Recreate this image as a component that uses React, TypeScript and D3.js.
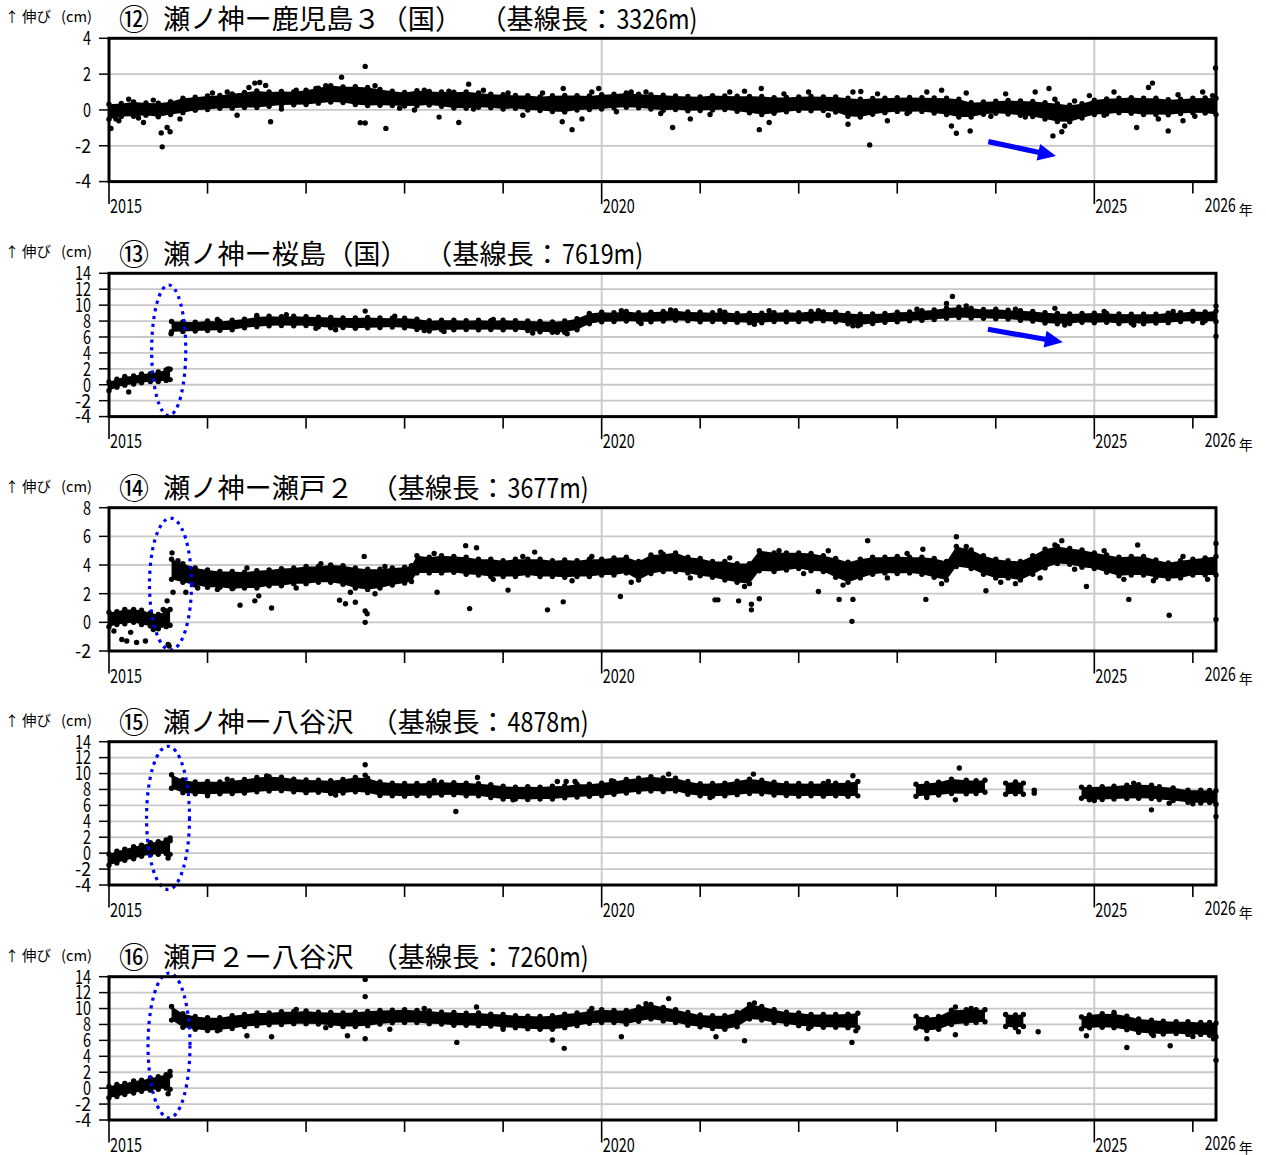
import React from "react";
import * as d3 from "d3";

type Row = [number, number, number]; // [year, centre of band (cm), half spread (cm)]
type Pt = [number, number]; // [year, value cm]

// ---------------- DATA ----------------
const PANEL_NUMS = ["⑫", "⑬", "⑭", "⑮", "⑯"];
const PANEL_NAMES = ["瀬ノ神ー鹿児島３（国）", "瀬ノ神ー桜島（国）", "瀬ノ神ー瀬戸２", "瀬ノ神ー八谷沢", "瀬戸２ー八谷沢"];
const BASELINE_PREFIX = "（基線長：";
const BASELINE_LENGTHS = ["3326m)", "7619m)", "3677m)", "4878m)", "7260m)"];
const Y_DOMAINS: [number, number][] = [[-4, 4], [-4, 14], [-2, 8], [-4, 14], [-4, 14]];
const Y_TICKS_1 = [-4, -2, 0, 2, 4];
const Y_TICKS_2 = [-4, -2, 0, 2, 4, 6, 8, 10, 12, 14];
const Y_TICKS_3 = [-2, 0, 2, 4, 6, 8];
const Y_TICKS = [Y_TICKS_1, Y_TICKS_2, Y_TICKS_3, Y_TICKS_2, Y_TICKS_2];
const YEAR_TICKS = [2015, 2016, 2017, 2018, 2019, 2020, 2021, 2022, 2023, 2024, 2025, 2026];
const LABELLED_YEARS = [2015, 2020, 2025];
const LAST_YEAR_LABEL = "2026";
const YEAR_UNIT = "年";
const X_DOMAIN: [number, number] = [2015, 2026.235];

const P12_BAND: Row[][] = [[
  [2015.0, -0.1, 0.42], [2015.125, 0.0, 0.36], [2015.25, 0.05, 0.4], [2015.375, 0.05, 0.34], [2015.5, 0.0, 0.38], [2015.625, 0.1, 0.36], [2015.75, 0.25, 0.4], [2015.875, 0.35, 0.36],
  [2016.0, 0.4, 0.38], [2016.125, 0.45, 0.36], [2016.25, 0.5, 0.4], [2016.375, 0.55, 0.42], [2016.5, 0.6, 0.46], [2016.625, 0.6, 0.4], [2016.75, 0.65, 0.38], [2016.875, 0.65, 0.36],
  [2017.0, 0.7, 0.4], [2017.125, 0.8, 0.42], [2017.25, 0.9, 0.46], [2017.375, 0.85, 0.44], [2017.5, 0.8, 0.5], [2017.625, 0.75, 0.5], [2017.75, 0.7, 0.44], [2017.875, 0.65, 0.4],
  [2018.0, 0.6, 0.38], [2018.125, 0.65, 0.42], [2018.25, 0.65, 0.38], [2018.375, 0.6, 0.4], [2018.5, 0.55, 0.44], [2018.625, 0.55, 0.46], [2018.75, 0.55, 0.4], [2018.875, 0.5, 0.38],
  [2019.0, 0.45, 0.4], [2019.125, 0.45, 0.36], [2019.25, 0.4, 0.4], [2019.375, 0.35, 0.38], [2019.5, 0.35, 0.44], [2019.625, 0.35, 0.46], [2019.75, 0.4, 0.4], [2019.875, 0.4, 0.38],
  [2020.0, 0.45, 0.4], [2020.125, 0.5, 0.38], [2020.25, 0.55, 0.4], [2020.375, 0.5, 0.38], [2020.5, 0.45, 0.4], [2020.625, 0.4, 0.42], [2020.75, 0.4, 0.38], [2020.875, 0.35, 0.4],
  [2021.0, 0.35, 0.38], [2021.125, 0.4, 0.4], [2021.25, 0.4, 0.38], [2021.375, 0.35, 0.42], [2021.5, 0.3, 0.46], [2021.625, 0.25, 0.5], [2021.75, 0.25, 0.44], [2021.875, 0.3, 0.4],
  [2022.0, 0.35, 0.38], [2022.125, 0.35, 0.4], [2022.25, 0.35, 0.38], [2022.375, 0.3, 0.42], [2022.5, 0.15, 0.5], [2022.625, 0.1, 0.5], [2022.75, 0.2, 0.44], [2022.875, 0.25, 0.4],
  [2023.0, 0.3, 0.38], [2023.125, 0.3, 0.4], [2023.25, 0.3, 0.38], [2023.375, 0.25, 0.42], [2023.5, 0.2, 0.46], [2023.625, 0.1, 0.5], [2023.75, 0.0, 0.4], [2023.875, 0.1, 0.34],
  [2024.0, 0.15, 0.34], [2024.125, 0.15, 0.38], [2024.25, 0.1, 0.4], [2024.375, 0.05, 0.42], [2024.5, -0.05, 0.46], [2024.625, -0.15, 0.5], [2024.75, -0.2, 0.46], [2024.875, -0.05, 0.4],
  [2025.0, 0.15, 0.4], [2025.125, 0.2, 0.42], [2025.25, 0.25, 0.4], [2025.375, 0.25, 0.44], [2025.5, 0.2, 0.46], [2025.625, 0.2, 0.46], [2025.75, 0.15, 0.42], [2025.875, 0.2, 0.4],
  [2026.0, 0.25, 0.4], [2026.125, 0.25, 0.42], [2026.235, 0.2, 0.46],
]];
const P12_DOTS: Pt[] = [
  [2015.02, -1.03], [2015.53, -1.28], [2015.54, -2.06], [2015.59, -0.98], [2015.62, -1.22], [2016.64, -0.66], [2016.48, 1.5], [2016.53, 1.53],
  [2016.59, 1.37], [2017.6, 2.43], [2017.36, 1.83], [2017.55, -0.71], [2017.6, -0.73], [2017.81, -1.03], [2018.55, -0.7], [2018.65, 1.44],
  [2019.6, -0.66], [2019.7, -1.1], [2019.61, 1.2], [2019.97, 1.2], [2020.72, -0.98], [2021.6, -1.1], [2021.62, 1.2], [2022.72, -1.95],
  [2022.63, 1.03], [2023.6, -1.3], [2023.74, -1.17], [2024.54, 1.2], [2024.58, -1.45], [2024.67, -1.22], [2025.59, 1.5], [2025.75, -1.17],
  [2025.43, -0.98], [2026.23, 2.34], [2015.1, -0.6], [2015.2, 0.6], [2015.35, -0.7], [2016.3, -0.3], [2016.9, 1.1], [2017.1, 1.2],
  [2018.2, 1.1], [2018.35, -0.4], [2018.8, 1.1], [2019.2, -0.3], [2019.8, -0.5], [2020.3, 1.0], [2020.9, -0.5], [2021.3, 1.0],
  [2021.7, -0.7], [2022.1, 1.0], [2022.5, -0.8], [2022.9, -0.6], [2023.3, 1.0], [2023.55, -0.9], [2024.1, 0.9], [2024.4, 1.0],
  [2024.7, -0.9], [2025.2, 1.0], [2025.9, -0.6], [2026.1, 1.0], [2015.07, -0.5], [2015.3, -0.45], [2015.45, 0.55], [2015.72, -0.5],
  [2016.05, 0.95], [2016.2, 1.0], [2016.42, 1.25], [2016.75, 0.05], [2017.2, 1.35], [2017.42, 1.1], [2017.7, 1.35], [2017.95, 0.1],
  [2018.1, 0.0], [2018.45, 1.05], [2018.7, 0.05], [2019.05, 0.95], [2019.4, 0.95], [2019.9, 1.0], [2020.15, -0.1], [2020.45, 1.0],
  [2020.6, -0.2], [2021.1, -0.25], [2021.45, 1.05], [2021.85, 0.9], [2022.3, -0.3], [2022.55, 1.0], [2022.8, 0.9], [2023.1, -0.2],
  [2023.45, 1.1], [2023.7, 0.95], [2023.95, -0.35], [2024.3, -0.4], [2024.6, 0.6], [2024.8, 0.5], [2024.95, 0.8], [2025.1, -0.3],
  [2025.55, 1.25], [2025.65, -0.5], [2025.85, 0.85], [2026.02, -0.35], [2026.2, 0.8],
];

const P13_BAND: Row[][] = [
  [[2015.0, -0.2, 0.55], [2015.08, 0.2, 0.5], [2015.16, 0.5, 0.55], [2015.25, 0.6, 0.5], [2015.33, 0.8, 0.55], [2015.42, 0.9, 0.5], [2015.5, 1.0, 0.6], [2015.58, 1.2, 0.65], [2015.62, 1.3, 0.65]],
  [[2015.635, 7.3, 0.65], [2015.75, 7.3, 0.6], [2015.875, 7.3, 0.55], [2016.0, 7.4, 0.6], [2016.125, 7.4, 0.55], [2016.25, 7.5, 0.6], [2016.375, 7.7, 0.55], [2016.5, 7.9, 0.6],
   [2016.625, 8.0, 0.6], [2016.75, 8.0, 0.55], [2016.875, 8.0, 0.6], [2017.0, 8.0, 0.55], [2017.125, 7.9, 0.6], [2017.25, 7.8, 0.65], [2017.375, 7.8, 0.6], [2017.5, 7.75, 0.65],
   [2017.625, 7.8, 0.65], [2017.75, 7.8, 0.6], [2017.875, 7.8, 0.55], [2018.0, 7.75, 0.6], [2018.125, 7.6, 0.65], [2018.25, 7.4, 0.65], [2018.375, 7.5, 0.6], [2018.5, 7.5, 0.6],
   [2018.625, 7.5, 0.55], [2018.75, 7.5, 0.6], [2018.875, 7.5, 0.55], [2019.0, 7.5, 0.6], [2019.125, 7.5, 0.55], [2019.25, 7.4, 0.6], [2019.375, 7.3, 0.65], [2019.5, 7.25, 0.65],
   [2019.625, 7.3, 0.7], [2019.75, 7.6, 0.7], [2019.875, 8.3, 0.65], [2020.0, 8.5, 0.6], [2020.125, 8.5, 0.55], [2020.25, 8.6, 0.6], [2020.375, 8.5, 0.55], [2020.5, 8.5, 0.6],
   [2020.625, 8.6, 0.6], [2020.75, 8.7, 0.6], [2020.875, 8.6, 0.55], [2021.0, 8.5, 0.6], [2021.125, 8.5, 0.55], [2021.25, 8.5, 0.6], [2021.375, 8.4, 0.55], [2021.5, 8.4, 0.6],
   [2021.625, 8.4, 0.6], [2021.75, 8.5, 0.55], [2021.875, 8.5, 0.6], [2022.0, 8.5, 0.55], [2022.125, 8.6, 0.6], [2022.25, 8.6, 0.55], [2022.375, 8.5, 0.6], [2022.5, 8.3, 0.65],
   [2022.625, 8.2, 0.65], [2022.75, 8.3, 0.6], [2022.875, 8.4, 0.55], [2023.0, 8.5, 0.6], [2023.125, 8.6, 0.55], [2023.25, 8.7, 0.6], [2023.375, 8.8, 0.6], [2023.5, 9.0, 0.65],
   [2023.625, 9.1, 0.65], [2023.75, 9.0, 0.6], [2023.875, 8.9, 0.55], [2024.0, 8.9, 0.6], [2024.125, 8.8, 0.55], [2024.25, 8.7, 0.6], [2024.375, 8.6, 0.6], [2024.5, 8.4, 0.65],
   [2024.625, 8.3, 0.65], [2024.75, 8.3, 0.6], [2024.875, 8.4, 0.55], [2025.0, 8.4, 0.6], [2025.125, 8.4, 0.55], [2025.25, 8.3, 0.6], [2025.375, 8.3, 0.55], [2025.5, 8.25, 0.6],
   [2025.625, 8.3, 0.55], [2025.75, 8.4, 0.6], [2025.875, 8.5, 0.55], [2026.0, 8.6, 0.6], [2026.125, 8.6, 0.55], [2026.235, 8.6, 0.65]],
];
const P13_DOTS: Pt[] = [
  [2015.63, 6.4], [2017.6, 9.25], [2023.56, 11.1], [2023.5, 10.2], [2020.7, 9.4], [2016.5, 8.7], [2018.2, 6.8], [2019.55, 6.6],
  [2024.6, 9.6], [2026.235, 6.1], [2026.235, 9.9], [2021.7, 9.3], [2022.6, 7.4], [2017.3, 6.9], [2015.2, -0.9], [2015.6, 2.0],
  [2016.1, 8.2], [2016.8, 8.8], [2017.1, 7.1], [2017.9, 8.6], [2018.4, 6.7], [2018.9, 8.2], [2019.3, 6.5], [2019.65, 6.4],
  [2020.2, 9.3], [2020.4, 7.7], [2021.2, 9.3], [2021.55, 7.6], [2022.2, 9.3], [2022.55, 7.4], [2023.2, 9.5], [2023.7, 9.9],
  [2024.2, 9.5], [2024.7, 7.5], [2025.1, 9.2], [2025.4, 7.5], [2025.8, 9.2], [2026.1, 7.8],
];

const P14_BAND: Row[][] = [
  [[2015.0, 0.2, 0.5], [2015.08, 0.3, 0.45], [2015.16, 0.4, 0.5], [2015.25, 0.45, 0.45], [2015.33, 0.35, 0.5], [2015.42, 0.2, 0.45], [2015.5, 0.05, 0.5], [2015.58, 0.25, 0.55], [2015.62, 0.35, 0.55]],
  [[2015.635, 3.7, 0.7], [2015.75, 3.45, 0.65], [2015.875, 3.2, 0.6], [2016.0, 3.05, 0.6], [2016.125, 3.0, 0.55], [2016.25, 2.95, 0.6], [2016.375, 2.95, 0.55], [2016.5, 3.0, 0.6],
   [2016.625, 3.1, 0.55], [2016.75, 3.15, 0.6], [2016.875, 3.25, 0.55], [2017.0, 3.3, 0.6], [2017.125, 3.35, 0.55], [2017.25, 3.4, 0.6], [2017.375, 3.3, 0.65], [2017.5, 3.1, 0.7],
   [2017.625, 3.0, 0.7], [2017.75, 3.05, 0.65], [2017.875, 3.2, 0.6], [2018.0, 3.3, 0.55], [2018.07, 3.4, 0.55], [2018.125, 4.05, 0.6], [2018.25, 4.0, 0.55], [2018.375, 4.05, 0.6],
   [2018.5, 4.05, 0.55], [2018.625, 3.95, 0.6], [2018.75, 3.85, 0.55], [2018.875, 3.8, 0.6], [2019.0, 3.75, 0.55], [2019.125, 3.8, 0.6], [2019.25, 3.85, 0.55], [2019.375, 3.8, 0.6],
   [2019.5, 3.75, 0.55], [2019.625, 3.75, 0.6], [2019.75, 3.75, 0.55], [2019.875, 3.8, 0.6], [2020.0, 3.85, 0.55], [2020.125, 3.9, 0.6], [2020.25, 4.0, 0.55], [2020.375, 3.6, 0.65],
   [2020.5, 4.05, 0.65], [2020.625, 4.15, 0.6], [2020.75, 4.2, 0.65], [2020.875, 4.0, 0.55], [2021.0, 3.85, 0.6], [2021.125, 3.7, 0.55], [2021.25, 3.6, 0.65], [2021.375, 3.45, 0.65],
   [2021.5, 3.4, 0.7], [2021.6, 4.3, 0.7], [2021.75, 4.2, 0.65], [2021.875, 4.25, 0.6], [2022.0, 4.3, 0.55], [2022.125, 4.2, 0.6], [2022.25, 4.1, 0.55], [2022.375, 3.8, 0.65],
   [2022.5, 3.5, 0.7], [2022.625, 3.75, 0.65], [2022.75, 3.95, 0.6], [2022.875, 4.0, 0.55], [2023.0, 4.0, 0.6], [2023.125, 4.0, 0.55], [2023.25, 3.95, 0.6], [2023.375, 3.8, 0.65],
   [2023.5, 3.6, 0.65], [2023.6, 4.6, 0.7], [2023.75, 4.4, 0.65], [2023.875, 4.0, 0.65], [2024.0, 3.75, 0.65], [2024.125, 3.7, 0.6], [2024.25, 3.6, 0.65], [2024.375, 4.0, 0.65],
   [2024.5, 4.45, 0.65], [2024.625, 4.7, 0.6], [2024.75, 4.6, 0.55], [2024.875, 4.45, 0.6], [2025.0, 4.3, 0.55], [2025.125, 4.1, 0.6], [2025.25, 3.9, 0.65], [2025.375, 3.95, 0.65],
   [2025.5, 3.95, 0.65], [2025.625, 3.75, 0.6], [2025.75, 3.6, 0.55], [2025.875, 3.7, 0.6], [2026.0, 3.85, 0.55], [2026.125, 3.9, 0.6], [2026.235, 3.95, 0.65]],
];
const P14_DOTS: Pt[] = [
  [2015.64, 4.85], [2015.65, 2.1], [2015.78, 2.1], [2015.59, 1.5], [2015.61, -1.65], [2015.6, -1.55], [2015.18, -1.3], [2015.28, -1.4],
  [2015.37, -1.3], [2015.13, -1.2], [2016.33, 1.2], [2016.48, 1.5], [2016.52, 1.85], [2016.65, 1.0], [2016.26, 2.4], [2017.34, 1.55],
  [2017.4, 1.3], [2017.5, 1.4], [2017.6, 0.8], [2017.62, 0.6], [2017.6, 0.0], [2017.59, 4.6], [2018.66, 0.96], [2019.45, 0.87],
  [2019.61, 1.43], [2020.19, 1.8], [2018.62, 5.35], [2018.73, 5.2], [2019.32, 4.9], [2018.33, 2.1], [2019.05, 2.25], [2021.15, 1.57],
  [2021.18, 1.57], [2021.39, 1.5], [2021.52, 1.26], [2021.52, 0.87], [2021.6, 1.65], [2022.2, 2.15], [2022.41, 1.6], [2022.55, 1.6],
  [2022.54, 0.07], [2022.7, 5.7], [2023.29, 1.6], [2023.26, 5.1], [2023.6, 5.97], [2025.35, 1.6], [2025.76, 0.5], [2025.44, 5.4],
  [2024.67, 5.7], [2024.92, 2.5], [2023.9, 2.2], [2026.235, 0.2], [2026.235, 5.5], [2015.05, -0.6], [2015.22, -0.7], [2015.45, -0.5],
  [2015.55, 0.9], [2015.7, 4.3], [2015.9, 2.4], [2016.1, 2.3], [2016.4, 3.8], [2016.9, 2.4], [2017.15, 4.1], [2017.45, 2.1],
  [2017.7, 2.0], [2017.8, 3.9], [2018.3, 4.8], [2018.9, 3.0], [2019.2, 4.6], [2019.7, 2.9], [2019.9, 4.6], [2020.3, 2.8],
  [2020.6, 4.9], [2020.9, 3.1], [2021.3, 4.5], [2021.45, 2.5], [2021.8, 5.0], [2022.05, 3.4], [2022.3, 5.0], [2022.45, 2.6],
  [2022.9, 3.1], [2023.1, 4.8], [2023.45, 2.7], [2023.7, 5.3], [2024.05, 2.8], [2024.2, 2.7], [2024.45, 3.1], [2024.6, 5.4],
  [2024.8, 3.7], [2025.1, 5.0], [2025.3, 3.0], [2025.6, 2.9], [2025.9, 4.6], [2026.15, 3.0],
];

const P15_BAND: Row[][] = [
  [[2015.0, -0.8, 0.7], [2015.08, -0.5, 0.75], [2015.16, -0.2, 0.7], [2015.25, 0.05, 0.75], [2015.33, 0.3, 0.7], [2015.42, 0.55, 0.75], [2015.5, 0.65, 0.8], [2015.58, 0.8, 0.85], [2015.62, 0.7, 0.85]],
  [[2015.635, 9.0, 0.85], [2015.75, 8.4, 0.8], [2015.875, 8.2, 0.75], [2016.0, 8.2, 0.8], [2016.125, 8.2, 0.75], [2016.25, 8.3, 0.8], [2016.375, 8.4, 0.85], [2016.5, 8.6, 0.9],
   [2016.625, 8.7, 0.9], [2016.75, 8.7, 0.85], [2016.875, 8.5, 0.8], [2017.0, 8.4, 0.8], [2017.125, 8.4, 0.75], [2017.25, 8.3, 0.8], [2017.375, 8.4, 0.85], [2017.5, 8.6, 0.9],
   [2017.625, 8.5, 0.9], [2017.75, 8.1, 0.85], [2017.875, 8.0, 0.8], [2018.0, 7.96, 0.8], [2018.125, 8.0, 0.75], [2018.25, 8.0, 0.8], [2018.375, 8.1, 0.8], [2018.5, 8.1, 0.75],
   [2018.625, 8.0, 0.8], [2018.75, 7.96, 0.75], [2018.875, 7.8, 0.8], [2019.0, 7.6, 0.8], [2019.125, 7.55, 0.75], [2019.25, 7.54, 0.8], [2019.375, 7.55, 0.75], [2019.5, 7.6, 0.8],
   [2019.625, 7.7, 0.75], [2019.75, 7.85, 0.8], [2019.875, 7.9, 0.75], [2020.0, 8.0, 0.8], [2020.125, 8.2, 0.8], [2020.25, 8.4, 0.85], [2020.375, 8.55, 0.85], [2020.5, 8.7, 0.9],
   [2020.625, 8.6, 0.85], [2020.75, 8.6, 0.8], [2020.875, 8.2, 0.8], [2021.0, 7.96, 0.75], [2021.125, 7.96, 0.8], [2021.25, 8.0, 0.8], [2021.375, 8.2, 0.85], [2021.5, 8.4, 0.9],
   [2021.625, 8.3, 0.85], [2021.75, 8.1, 0.8], [2021.875, 8.0, 0.75], [2022.0, 7.96, 0.8], [2022.125, 7.96, 0.75], [2022.25, 7.96, 0.8], [2022.375, 8.0, 0.8], [2022.5, 8.0, 0.85],
   [2022.6, 8.1, 0.9]],
  [[2023.19, 7.9, 0.75], [2023.3, 8.0, 0.75], [2023.42, 8.1, 0.8], [2023.55, 8.4, 0.9], [2023.7, 8.3, 0.85], [2023.8, 8.3, 0.8], [2023.89, 8.4, 0.75]],
  [[2024.1, 8.1, 0.7], [2024.2, 8.2, 0.75], [2024.28, 8.1, 0.7]],
  [[2024.87, 7.6, 0.7], [2024.95, 7.5, 0.8], [2025.08, 7.54, 0.8], [2025.2, 7.6, 0.8], [2025.33, 7.7, 0.85], [2025.45, 7.75, 0.85], [2025.58, 7.7, 0.85], [2025.66, 7.54, 0.8],
   [2025.8, 7.4, 0.8], [2025.95, 7.15, 0.75], [2026.08, 7.1, 0.8], [2026.17, 7.12, 0.75], [2026.235, 7.0, 0.85]],
];
const P15_DOTS: Pt[] = [
  [2017.6, 11.1], [2017.6, 9.8], [2018.52, 5.23], [2018.74, 9.5], [2019.55, 9.0], [2019.64, 9.0], [2019.73, 9.0], [2020.68, 9.93],
  [2021.54, 9.93], [2022.55, 9.72], [2023.63, 10.7], [2023.59, 6.7], [2025.58, 5.44], [2025.76, 6.28], [2024.39, 7.9], [2024.39, 7.54],
  [2026.235, 4.6], [2016.2, 9.3], [2015.62, 1.9], [2015.6, -0.6], [2016.0, 7.2], [2016.6, 9.7], [2017.3, 7.3], [2018.3, 9.1],
  [2019.1, 6.7], [2020.1, 9.1], [2021.1, 7.0], [2022.3, 9.0], [2023.3, 7.0], [2025.0, 6.6], [2025.4, 8.8], [2026.0, 6.2],
];

const P16_BAND: Row[][] = [
  [[2015.0, -0.5, 0.7], [2015.08, -0.3, 0.75], [2015.16, -0.1, 0.7], [2015.25, 0.15, 0.75], [2015.33, 0.3, 0.7], [2015.42, 0.5, 0.75], [2015.5, 0.65, 0.8], [2015.58, 0.85, 0.85], [2015.62, 0.7, 0.85]],
  [[2015.635, 9.4, 0.85], [2015.75, 8.5, 0.85], [2015.875, 8.2, 0.8], [2016.0, 8.05, 0.8], [2016.125, 8.1, 0.75], [2016.25, 8.3, 0.8], [2016.375, 8.5, 0.75], [2016.5, 8.65, 0.8],
   [2016.625, 8.7, 0.75], [2016.75, 8.8, 0.8], [2016.875, 8.85, 0.75], [2017.0, 8.9, 0.8], [2017.125, 8.8, 0.75], [2017.25, 8.7, 0.8], [2017.375, 8.6, 0.85], [2017.5, 8.65, 0.9],
   [2017.625, 8.75, 0.9], [2017.75, 8.9, 0.85], [2017.875, 9.0, 0.8], [2018.0, 9.05, 0.8], [2018.125, 9.0, 0.75], [2018.25, 8.9, 0.8], [2018.375, 8.8, 0.75], [2018.5, 8.7, 0.8],
   [2018.625, 8.65, 0.75], [2018.75, 8.65, 0.8], [2018.875, 8.55, 0.75], [2019.0, 8.45, 0.8], [2019.125, 8.35, 0.75], [2019.25, 8.25, 0.8], [2019.375, 8.2, 0.8], [2019.5, 8.25, 0.85],
   [2019.625, 8.45, 0.85], [2019.75, 8.65, 0.8], [2019.875, 8.9, 0.75], [2020.0, 9.05, 0.8], [2020.125, 9.0, 0.75], [2020.25, 8.9, 0.85], [2020.375, 9.3, 0.9], [2020.5, 9.6, 0.9],
   [2020.625, 9.3, 0.85], [2020.75, 9.05, 0.8], [2020.875, 8.7, 0.8], [2021.0, 8.45, 0.75], [2021.125, 8.3, 0.8], [2021.25, 8.25, 0.85], [2021.375, 8.6, 0.9], [2021.5, 9.6, 0.9],
   [2021.625, 9.4, 0.85], [2021.75, 9.05, 0.8], [2021.875, 8.8, 0.75], [2022.0, 8.65, 0.8], [2022.125, 8.5, 0.75], [2022.25, 8.45, 0.8], [2022.375, 8.45, 0.8], [2022.5, 8.45, 0.85],
   [2022.6, 8.5, 0.9]],
  [[2023.19, 8.3, 0.75], [2023.3, 8.05, 0.8], [2023.42, 8.2, 0.8], [2023.55, 8.9, 0.9], [2023.7, 9.0, 0.85], [2023.8, 9.05, 0.8], [2023.89, 9.1, 0.75]],
  [[2024.1, 8.5, 0.75], [2024.2, 8.4, 0.8], [2024.28, 8.5, 0.75]],
  [[2024.87, 8.2, 0.75], [2024.95, 8.4, 0.8], [2025.08, 8.5, 0.85], [2025.2, 8.45, 0.85], [2025.33, 8.2, 0.85], [2025.45, 7.85, 0.85], [2025.58, 7.7, 0.85], [2025.7, 7.6, 0.8],
   [2025.83, 7.6, 0.75], [2025.95, 7.55, 0.8], [2026.08, 7.5, 0.75], [2026.17, 7.45, 0.8], [2026.235, 7.3, 0.85]],
];
const P16_DOTS: Pt[] = [
  [2017.6, 13.66], [2017.6, 11.5], [2017.6, 6.2], [2018.53, 5.75], [2019.62, 5.0], [2019.5, 6.04], [2018.73, 10.2], [2020.68, 11.25],
  [2023.59, 10.2], [2023.59, 6.7], [2025.33, 5.1], [2025.77, 5.33], [2023.3, 6.2], [2022.54, 5.75], [2026.21, 6.2], [2026.235, 3.5],
  [2024.43, 7.08], [2024.23, 7.08], [2024.92, 6.58], [2020.2, 6.46], [2021.16, 6.46], [2021.45, 5.96], [2017.42, 6.58], [2017.85, 7.4],
  [2016.65, 6.46], [2016.4, 6.58], [2015.62, 2.1], [2015.6, -0.7], [2016.1, 7.2], [2016.9, 9.9], [2017.2, 7.6], [2018.2, 10.0],
  [2019.0, 7.4], [2019.9, 10.0], [2020.45, 10.6], [2021.55, 10.7], [2022.1, 7.5], [2022.58, 7.2], [2023.75, 10.0], [2025.2, 9.5],
  [2025.6, 6.6], [2026.0, 6.5],
];

const BANDS = [P12_BAND, P13_BAND, P14_BAND, P15_BAND, P16_BAND];
const DOTS = [P12_DOTS, P13_DOTS, P14_DOTS, P15_DOTS, P16_DOTS];

// annotations: dotted ellipse [centre year, centre value, half width (years), half height (cm)]
const ELLIPSES: ([number, number, number, number] | null)[] = [
  null,
  [2015.606, 4.33, 0.173, 8.2],
  [2015.624, 2.67, 0.213, 4.6],
  [2015.599, 4.42, 0.218, 9.0],
  [2015.609, 5.36, 0.213, 9.1],
];
// arrows: [from year, from value, to year, to value]
const ARROWS: ([number, number, number, number] | null)[] = [
  [2023.924, -1.77, 2024.611, -2.57],
  [2023.92, 6.97, 2024.68, 5.33],
  null,
  null,
  null,
];

// ---------------- LAYOUT ----------------
const LAYOUT = {
  left: 109,
  right: 1216,
  tops: [38.3, 273.3, 507.7, 741.7, 976.7],
  height: 143.3,
};
const FONT = "'Noto Sans CJK JP', 'Noto Sans', sans-serif";
const TITLE_SIZE = 27.2;
const GRID = "#c8c8c8";
const BLUE = "#0000ff";
const NO_TRIM: React.CSSProperties = { textSpacingTrim: "space-all" } as any;

function Panel({ i, x }: { i: number; x: d3.ScaleLinear<number, number> }) {
  const top = LAYOUT.tops[i];
  const bottom = top + LAYOUT.height;
  const [ymin, ymax] = Y_DOMAINS[i];
  const y = d3.scaleLinear().domain([ymin, ymax]).range([bottom, top]);
  const area = d3
    .area<Row>()
    .x((d) => x(d[0]))
    .y0((d) => y(d[1] - d[2]))
    .y1((d) => y(d[1] + d[2]));
  const ticks = Y_TICKS[i];
  const ell = ELLIPSES[i];
  const arr = ARROWS[i];

  let arrowPath = "";
  if (arr) {
    const x0 = x(arr[0]), y0 = y(arr[1]), x1 = x(arr[2]), y1 = y(arr[3]);
    const len = Math.hypot(x1 - x0, y1 - y0);
    const ux = (x1 - x0) / len, uy = (y1 - y0) / len;
    const nx = -uy, ny = ux;
    const hl = 18, hw = 8.5, sw = 2.6;
    const bx = x1 - ux * hl, by = y1 - uy * hl;
    const pts: [number, number][] = [
      [x0 + nx * sw, y0 + ny * sw],
      [bx + nx * sw, by + ny * sw],
      [bx + nx * hw, by + ny * hw],
      [x1, y1],
      [bx - nx * hw, by - ny * hw],
      [bx - nx * sw, by - ny * sw],
      [x0 - nx * sw, y0 - ny * sw],
    ];
    arrowPath = "M" + pts.map((p) => p.join(",")).join("L") + "Z";
  }

  const name = PANEL_NAMES[i];
  const prefixX = 163 + (name.length + 1) * TITLE_SIZE - 10;
  const numX = 163 + (name.length + 1 + BASELINE_PREFIX.length) * TITLE_SIZE - 9;
  const titleY = top - 9.5;
  const r = 2.7;

  return (
    <g>
      {/* y label */}
      <text x={5} y={top - 16} fontFamily={FONT} fontSize={14} fill="#000">
        ↑
      </text>
      <text x={22} y={top - 16} fontFamily={FONT} fontSize={14.5} fill="#000">
        伸び
      </text>
      <text x={61} y={top - 16} fontFamily={FONT} fontSize={14.5} textLength={31} lengthAdjust="spacingAndGlyphs" fill="#000">
        (cm)
      </text>

      {/* title */}
      <text x={119} y={titleY + 1} fontFamily={FONT} fontSize={30} fill="#000">
        {PANEL_NUMS[i]}
      </text>
      <text x={163} y={titleY} fontFamily={FONT} fontSize={TITLE_SIZE} fill="#000" style={NO_TRIM}>
        {name}
      </text>
      <text x={prefixX} y={titleY} fontFamily={FONT} fontSize={TITLE_SIZE} fill="#000" style={NO_TRIM}>
        {BASELINE_PREFIX}
      </text>
      <text
        x={numX}
        y={titleY}
        fontFamily={FONT}
        fontSize={TITLE_SIZE}
        textLength={BASELINE_LENGTHS[i].length * 13.5}
        lengthAdjust="spacingAndGlyphs"
        fill="#000"
      >
        {BASELINE_LENGTHS[i]}
      </text>

      {/* grid */}
      {ticks
        .filter((t) => t > ymin && t < ymax)
        .map((t) => (
          <line key={"g" + t} x1={LAYOUT.left} x2={LAYOUT.right} y1={y(t)} y2={y(t)} stroke={GRID} strokeWidth={1.8} />
        ))}
      {[2020, 2025].map((yr) => (
        <line key={"v" + yr} x1={x(yr)} x2={x(yr)} y1={top} y2={bottom} stroke={GRID} strokeWidth={1.8} />
      ))}

      {/* data */}
      {BANDS[i].map((seg, k) => (
        <g key={"s" + k}>
          <path d={area(seg) || ""} fill="#000" />
          {seg.map((d, j) => (
            <g key={j}>
              <circle cx={x(d[0])} cy={y(d[1] + d[2])} r={r} fill="#000" />
              <circle cx={x(d[0])} cy={y(d[1] - d[2])} r={r} fill="#000" />
            </g>
          ))}
        </g>
      ))}
      {DOTS[i].map((d, j) => (
        <circle key={"o" + j} cx={x(d[0])} cy={y(d[1])} r={r} fill="#000" />
      ))}

      {/* annotations */}
      {ell && (
        <ellipse
          cx={x(ell[0])}
          cy={y(ell[1])}
          rx={x(ell[0] + ell[2]) - x(ell[0])}
          ry={y(ell[1] - ell[3]) - y(ell[1])}
          fill="none"
          stroke={BLUE}
          strokeWidth={3.2}
          strokeDasharray="3.2 4.6"
        />
      )}
      {arr && <path d={arrowPath} fill={BLUE} />}

      {/* y ticks */}
      {ticks.map((t) => (
        <g key={"t" + t}>
          <line x1={LAYOUT.left - 10} x2={LAYOUT.left} y1={y(t)} y2={y(t)} stroke="#000" strokeWidth={1.5} />
          <text
            x={91}
            y={y(t)}
            dy="0.36em"
            textAnchor="end"
            fontFamily={FONT}
            fontSize={19}
            textLength={String(t).length * 8}
            lengthAdjust="spacingAndGlyphs"
            fill="#000"
          >
            {String(t)}
          </text>
        </g>
      ))}

      {/* x ticks */}
      {YEAR_TICKS.map((yr) => {
        const long = LABELLED_YEARS.includes(yr);
        return (
          <line
            key={"x" + yr}
            x1={x(yr)}
            x2={x(yr)}
            y1={bottom}
            y2={bottom + (long ? 22.5 : 12)}
            stroke="#000"
            strokeWidth={1.6}
          />
        );
      })}
      {LABELLED_YEARS.map((yr) => (
        <text
          key={"l" + yr}
          x={x(yr) + 1}
          y={bottom + 31.7}
          fontFamily={FONT}
          fontSize={19}
          textLength={32}
          lengthAdjust="spacingAndGlyphs"
          fill="#000"
        >
          {yr}
        </text>
      ))}
      <text
        x={x(2026) + 12}
        y={bottom + 30}
        fontFamily={FONT}
        fontSize={19}
        textLength={31}
        lengthAdjust="spacingAndGlyphs"
        fill="#000"
      >
        {LAST_YEAR_LABEL}
      </text>
      <text x={x(2026) + 46} y={bottom + 33} fontFamily={FONT} fontSize={14} fill="#000">
        {YEAR_UNIT}
      </text>

      {/* frame */}
      <rect
        x={LAYOUT.left}
        y={top}
        width={LAYOUT.right - LAYOUT.left}
        height={LAYOUT.height}
        fill="none"
        stroke="#000"
        strokeWidth={3}
      />
    </g>
  );
}

export default function App() {
  const x = d3.scaleLinear().domain(X_DOMAIN).range([LAYOUT.left, LAYOUT.right]);
  return (
    <svg
      width={1266}
      height={1155}
      style={{ position: "absolute", left: 0, top: 0, background: "#fff" }}
    >
      <rect width={1266} height={1155} fill="#fff" />
      {PANEL_NAMES.map((_, i) => (
        <Panel key={i} i={i} x={x} />
      ))}
    </svg>
  );
}
